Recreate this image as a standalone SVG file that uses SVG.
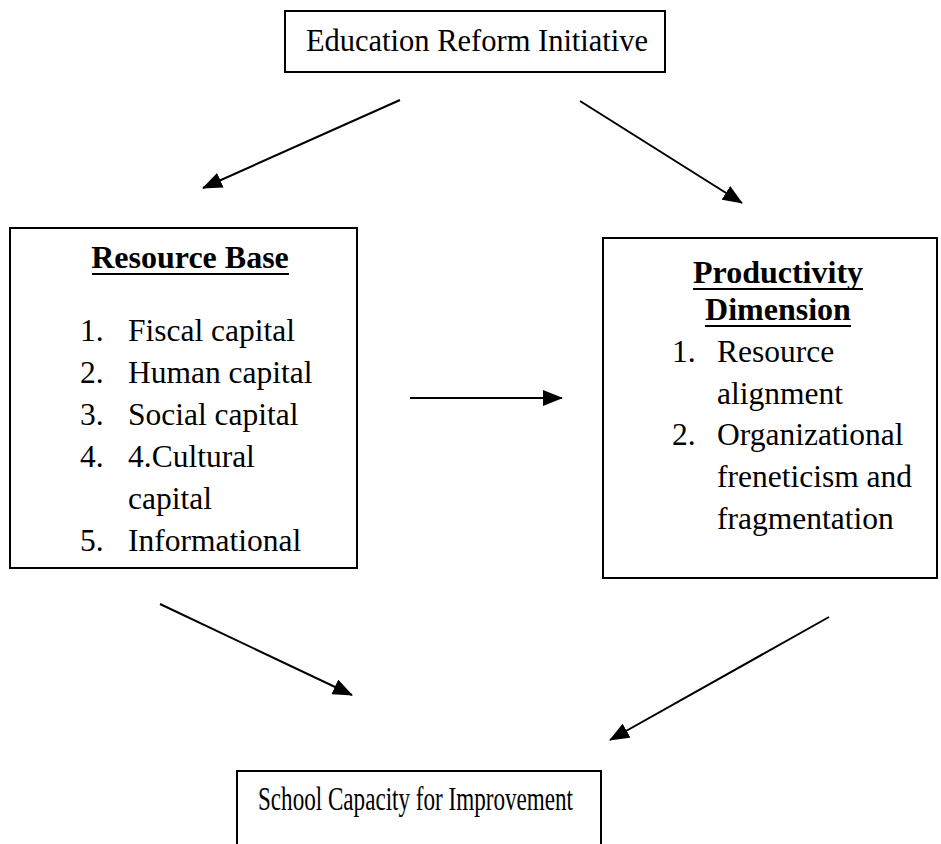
<svg xmlns="http://www.w3.org/2000/svg" width="941" height="844" viewBox="0 0 941 844">
  <defs>
    <marker id="arrowhead" markerUnits="userSpaceOnUse" markerWidth="20" markerHeight="16" refX="19" refY="8" orient="auto">
      <path d="M0,0 L20,8 L0,16 z" fill="#000"/>
    </marker>
    <style>
      .box { fill: #fff; stroke: #000; stroke-width: 2; }
      .txt { font-family: "Liberation Serif", "Times New Roman", serif; font-size: 31.5px; fill: #000; }
      .head { font-weight: bold; text-anchor: middle; font-size: 32px; }
      .rule { stroke: #000; stroke-width: 2; }
      .conn { stroke: #000; stroke-width: 2; fill: none; marker-end: url(#arrowhead); }
    </style>
  </defs>
  <rect width="941" height="844" fill="#fff"/>

  <g id="node-reform">
    <rect class="box" x="285" y="11" width="380" height="61"/>
    <text class="txt" x="477" y="51" text-anchor="middle" style="font-size:30.5px">Education Reform Initiative</text>
  </g>

  <g id="node-resource-base">
    <rect class="box" x="10" y="228" width="347" height="340"/>
    <text class="txt head" x="190" y="268">Resource Base</text>
    <line class="rule" x1="92" y1="274" x2="289" y2="274"/>
    <text class="txt" x="80" y="341">1.</text><text class="txt" x="128" y="341">Fiscal capital</text>
    <text class="txt" x="80" y="383">2.</text><text class="txt" x="128" y="383">Human capital</text>
    <text class="txt" x="80" y="425">3.</text><text class="txt" x="128" y="425">Social capital</text>
    <text class="txt" x="80" y="467">4.</text><text class="txt" x="128" y="467">4.Cultural</text>
    <text class="txt" x="128" y="509">capital</text>
    <text class="txt" x="80" y="551">5.</text><text class="txt" x="128" y="551">Informational</text>
  </g>

  <g id="node-productivity">
    <rect class="box" x="603" y="238" width="334" height="340"/>
    <text class="txt head" x="778" y="283">Productivity</text>
    <line class="rule" x1="693" y1="289" x2="863" y2="289"/>
    <text class="txt head" x="778" y="320">Dimension</text>
    <line class="rule" x1="705" y1="326" x2="851" y2="326"/>
    <text class="txt" x="672" y="362">1.</text><text class="txt" x="717" y="362">Resource</text>
    <text class="txt" x="717" y="404">alignment</text>
    <text class="txt" x="672" y="445">2.</text><text class="txt" x="717" y="445">Organizational</text>
    <text class="txt" x="717" y="487">freneticism and</text>
    <text class="txt" x="717" y="529">fragmentation</text>
  </g>

  <g id="node-capacity">
    <path class="box" d="M237,845 V771 H601 V845"/>
    <text class="txt" x="258" y="810" style="font-size:33px" textLength="315" lengthAdjust="spacingAndGlyphs">School Capacity for Improvement</text>
  </g>

  <g id="connectors">
    <line class="conn" x1="400" y1="100" x2="203" y2="188"/>
    <line class="conn" x1="580" y1="101" x2="742" y2="203"/>
    <line class="conn" x1="410" y1="398" x2="562" y2="398"/>
    <line class="conn" x1="160" y1="604" x2="352" y2="695"/>
    <line class="conn" x1="829" y1="617" x2="610" y2="740"/>
  </g>
</svg>
